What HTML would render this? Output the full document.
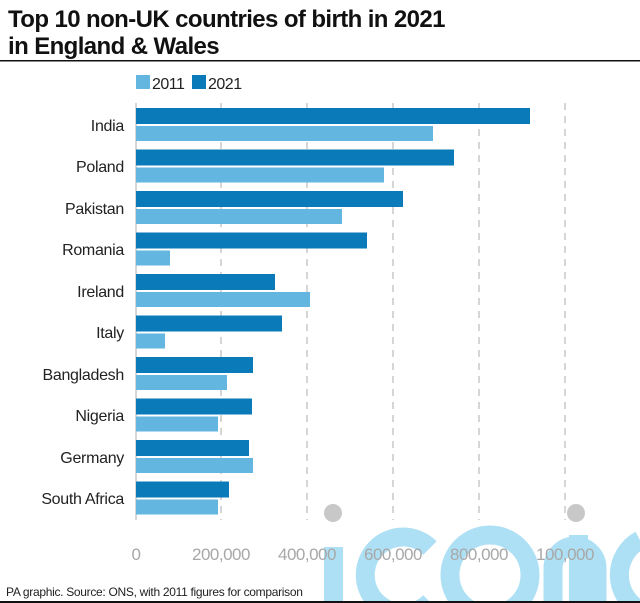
<!DOCTYPE html>
<html><head><meta charset="utf-8"><style>
html,body{margin:0;padding:0;background:#fff;overflow:hidden;width:640px;height:603px;}
svg{display:block;font-family:"Liberation Sans",sans-serif;}
</style></head><body>
<svg width="640" height="603" viewBox="0 0 640 603" xmlns="http://www.w3.org/2000/svg">
<rect width="640" height="603" fill="#fff"/>
<text x="8" y="27" font-size="24" font-weight="bold" fill="#111" letter-spacing="-0.6">Top 10 non-UK countries of birth in 2021</text>
<text x="8" y="54" font-size="24" font-weight="bold" fill="#111" letter-spacing="-0.6">in England &amp; Wales</text>
<rect x="0" y="60" width="640" height="1.5" fill="#111"/>
<rect x="136" y="75" width="14" height="14" fill="#62b6e0"/>
<text x="152" y="89" font-size="16" fill="#222" letter-spacing="-0.5">2011</text>
<rect x="192" y="75" width="14" height="14" fill="#0a7ab8"/>
<text x="208" y="89" font-size="16" fill="#222" letter-spacing="-0.5">2021</text>
<!-- watermark -->
<g fill="none" stroke="#aee0f5" stroke-width="19">
<line x1="333.5" y1="547" x2="333.5" y2="603"/>
<path d="M 430 548 A 38 38 0 1 0 430 602"/>
<circle cx="490" cy="575" r="40"/>
<path d="M 553 603 V 568 A 22 22 0 0 1 597 568 V 603" />
<line x1="578.5" y1="535" x2="578.5" y2="603"/>
<path d="M 640 540 A 40 40 0 0 0 640 610"/>
</g>
<circle cx="333" cy="513" r="9" fill="#c8c8c8"/>
<circle cx="576" cy="513" r="9" fill="#c8c8c8"/>
<g stroke="#bbb" stroke-width="1.2" stroke-dasharray="7,6">
<line x1="221" y1="103" x2="221" y2="520"/>
<line x1="307" y1="103" x2="307" y2="520"/>
<line x1="393" y1="103" x2="393" y2="520"/>
<line x1="479" y1="103" x2="479" y2="520"/>
<line x1="565" y1="103" x2="565" y2="520"/>
</g>
<line x1="136" y1="103" x2="136" y2="520" stroke="#bbb" stroke-width="1.2"/>
<g font-size="16" fill="#222" text-anchor="end" letter-spacing="-0.3">
<text x="124" y="131">India</text>
<text x="124" y="172">Poland</text>
<text x="124" y="214">Pakistan</text>
<text x="124" y="255">Romania</text>
<text x="124" y="297">Ireland</text>
<text x="124" y="338">Italy</text>
<text x="124" y="380">Bangladesh</text>
<text x="124" y="421">Nigeria</text>
<text x="124" y="463">Germany</text>
<text x="124" y="504">South Africa</text>
</g>
<g fill="#0a7ab8">
<rect x="136" y="108" width="394" height="16"/>
<rect x="136" y="149.5" width="318" height="16"/>
<rect x="136" y="191" width="267" height="16"/>
<rect x="136" y="232.5" width="231" height="16"/>
<rect x="136" y="274" width="139" height="16"/>
<rect x="136" y="315.5" width="146" height="16"/>
<rect x="136" y="357" width="117" height="16"/>
<rect x="136" y="398.5" width="116" height="16"/>
<rect x="136" y="440" width="113" height="16"/>
<rect x="136" y="481.5" width="93" height="16"/>
</g>
<g fill="#62b6e0">
<rect x="136" y="126" width="297" height="15"/>
<rect x="136" y="167.5" width="248" height="15"/>
<rect x="136" y="209" width="206" height="15"/>
<rect x="136" y="250.5" width="34" height="15"/>
<rect x="136" y="292" width="174" height="15"/>
<rect x="136" y="333.5" width="29" height="15"/>
<rect x="136" y="375" width="91" height="15"/>
<rect x="136" y="416.5" width="82" height="15"/>
<rect x="136" y="458" width="117" height="15"/>
<rect x="136" y="499.5" width="82" height="15"/>
</g>
<g font-size="17" fill="#a8a8a8" text-anchor="middle" letter-spacing="-0.5">
<text x="136" y="560">0</text>
<text x="221" y="560">200,000</text>
<text x="307" y="560">400,000</text>
<text x="393" y="560">600,000</text>
<text x="479" y="560">800,000</text>
<text x="565" y="560">100,000</text>
</g>
<text x="6" y="596" font-size="12" fill="#222" letter-spacing="-0.3">PA graphic. Source: ONS, with 2011 figures for comparison</text>
<rect x="0" y="601" width="640" height="2" fill="#111"/>
</svg>
</body></html>
